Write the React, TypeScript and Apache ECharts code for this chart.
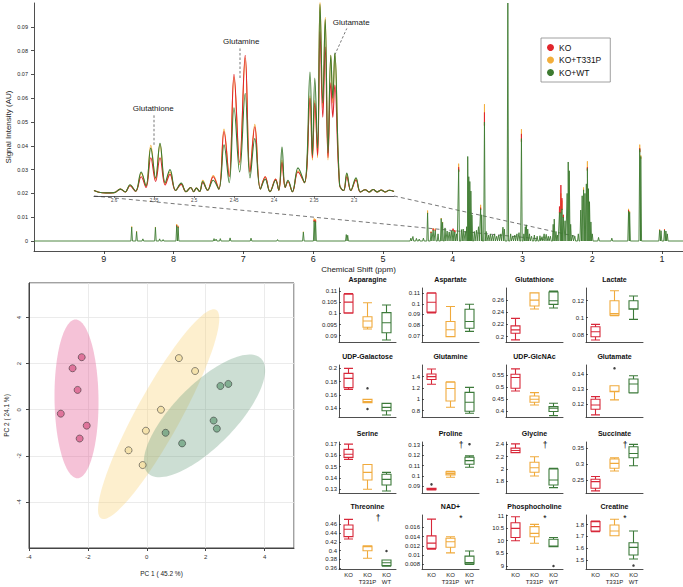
import React, { useEffect, useRef } from 'react';
import * as echarts from 'echarts';

const FONT = '"Liberation Sans", Arial, Helvetica, sans-serif';

// ---------- groups ----------
const groupNames = ['KO', 'KO+T331P', 'KO+WT'];
const specColors = ['#e1252c', '#f3ae3b', '#3d7a30']; // KO, T331P, WT
const boxColors = ['#d8283a', '#f0aa3c', '#3c7a3a'];

// ---------- main spectrum peaks: [ppm, KO+WT, KO, KO+T331P] ----------
const mainPeaks: number[][] = [
  [8.6, 0.0058, 0.0058, 0.0061], [8.53, 0.0039, 0.0039, 0.0041], [8.44, 0.0009, 0.0009, 0.0009],
  [8.26, 0.0057, 0.0056, 0.0059], [8.2, 0.0009, 0.0009, 0.0009], [8.15, 0.0006, 0.0006, 0.0006],
  [7.955, 0.0064, 0.0066, 0.0071], [7.935, 0.0058, 0.006, 0.0064],
  [7.42, 0.001, 0.001, 0.001], [7.39, 0.0008, 0.0008, 0.0008], [7.33, 0.001, 0.001, 0.001],
  [7.19, 0.0013, 0.0013, 0.0013], [6.89, 0.0012, 0.0012, 0.0012], [6.51, 0.0006, 0.0006, 0.0006],
  [6.14, 0.0037, 0.0035, 0.0039], [5.985, 0.0084, 0.0089, 0.0095], [5.965, 0.0081, 0.0086, 0.0092],
  [5.525, 0.0027, 0.0027, 0.0028], [5.505, 0.0024, 0.0024, 0.0025],
  [4.6, 0.0012, 0.0012, 0.0012], [4.57, 0.0019, 0.0019, 0.0019], [4.52, 0.0011, 0.0011, 0.0011],
  [4.48, 0.0008, 0.0008, 0.0008], [4.42, 0.0012, 0.0012, 0.0012],
  [4.36, 0.0118, 0.0118, 0.0128], [4.31, 0.0035, 0.0038, 0.004], [4.28, 0.0046, 0.0052, 0.0053],
  [4.25, 0.0044, 0.0048, 0.0052], [4.21, 0.003, 0.003, 0.003], [4.165, 0.0094, 0.0094, 0.0096],
  [4.145, 0.0078, 0.0078, 0.008], [4.11, 0.0055, 0.0055, 0.0056], [4.08, 0.0042, 0.0042, 0.0042],
  [4.05, 0.0038, 0.0038, 0.0038], [4.02, 0.0042, 0.0042, 0.0042], [3.995, 0.0044, 0.0052, 0.005],
  [3.97, 0.0038, 0.0046, 0.0042], [3.945, 0.003, 0.003, 0.003], [3.915, 0.03, 0.031, 0.0325],
  [3.875, 0.0048, 0.0048, 0.0048], [3.85, 0.005, 0.005, 0.005], [3.82, 0.004, 0.004, 0.004],
  [3.8, 0.006, 0.006, 0.006], [3.785, 0.0355, 0.0345, 0.0355], [3.77, 0.027, 0.027, 0.027],
  [3.755, 0.025, 0.025, 0.025], [3.74, 0.021, 0.021, 0.021], [3.725, 0.011, 0.011, 0.011],
  [3.69, 0.004, 0.004, 0.004], [3.66, 0.0045, 0.0045, 0.0045], [3.63, 0.006, 0.006, 0.006],
  [3.6, 0.0135, 0.014, 0.0152], [3.585, 0.011, 0.011, 0.011], [3.545, 0.05, 0.054, 0.0575],
  [3.52, 0.004, 0.004, 0.004], [3.49, 0.0025, 0.0025, 0.0025], [3.46, 0.003, 0.003, 0.003],
  [3.43, 0.0025, 0.0025, 0.0025], [3.4, 0.003, 0.003, 0.003], [3.37, 0.002, 0.002, 0.002],
  [3.34, 0.0025, 0.0025, 0.0025], [3.31, 0.003, 0.003, 0.003], [3.28, 0.0058, 0.0058, 0.0058],
  [3.26, 0.005, 0.005, 0.005], [3.21, 0.1, 0.1, 0.1], [3.17, 0.003, 0.003, 0.003],
  [3.14, 0.002, 0.002, 0.002], [3.11, 0.0025, 0.0025, 0.0025], [3.08, 0.003, 0.003, 0.003],
  [3.05, 0.0035, 0.0035, 0.0035], [3.015, 0.043, 0.045, 0.047], [2.98, 0.003, 0.003, 0.003],
  [2.96, 0.006, 0.006, 0.006], [2.945, 0.0068, 0.0068, 0.0068], [2.925, 0.005, 0.005, 0.005],
  [2.9, 0.003, 0.003, 0.003], [2.87, 0.002, 0.002, 0.002], [2.83, 0.0025, 0.0025, 0.0025],
  [2.79, 0.002, 0.002, 0.002], [2.75, 0.0022, 0.0022, 0.0022], [2.72, 0.0018, 0.0018, 0.0018],
  [2.69, 0.003, 0.003, 0.003], [2.66, 0.0028, 0.0028, 0.0028], [2.63, 0.002, 0.002, 0.002],
  [2.6, 0.002, 0.002, 0.002], [2.56, 0.007, 0.007, 0.007], [2.545, 0.0092, 0.0092, 0.0092],
  [2.52, 0.004, 0.004, 0.004], [2.5, 0.0025, 0.0025, 0.0025], [2.47, 0.012, 0.0145, 0.014],
  [2.45, 0.012, 0.0235, 0.02], [2.435, 0.0135, 0.018, 0.017], [2.415, 0.01, 0.011, 0.011],
  [2.39, 0.0085, 0.0085, 0.0085], [2.36, 0.02, 0.02, 0.02], [2.345, 0.0332, 0.03, 0.031],
  [2.33, 0.0295, 0.027, 0.029], [2.31, 0.007, 0.007, 0.007], [2.28, 0.0025, 0.0025, 0.0025],
  [2.25, 0.002, 0.002, 0.002], [2.2, 0.003, 0.003, 0.003], [2.165, 0.013, 0.013, 0.013],
  [2.145, 0.019, 0.019, 0.019], [2.125, 0.0215, 0.021, 0.0225], [2.105, 0.02, 0.02, 0.02],
  [2.085, 0.024, 0.024, 0.024], [2.07, 0.0305, 0.031, 0.0335], [2.055, 0.022, 0.022, 0.022],
  [2.04, 0.0165, 0.0165, 0.0165], [2.02, 0.008, 0.008, 0.008], [2.0, 0.003, 0.003, 0.003],
  [1.91, 0.0015, 0.0015, 0.0015], [1.72, 0.0012, 0.0012, 0.0012], [1.48, 0.0125, 0.013, 0.0135],
  [1.465, 0.012, 0.012, 0.0125], [1.32, 0.0385, 0.039, 0.0405], [1.305, 0.0355, 0.0355, 0.036],
  [1.035, 0.0045, 0.0047, 0.0048], [1.015, 0.0043, 0.0043, 0.0044], [0.965, 0.0046, 0.0048, 0.005],
  [0.945, 0.0042, 0.0042, 0.0043], [0.925, 0.003, 0.003, 0.003],
];

// ---------- inset (2.625 - 2.25 ppm): [ppm, KO+WT, KO, KO+T331P] ----------
const insetPoints: number[][] = [
  [2.625, 0.0212, 0.0212, 0.0212], [2.619, 0.0205, 0.0205, 0.0205], [2.61, 0.0202, 0.0202, 0.0202],
  [2.6, 0.0203, 0.0203, 0.0203], [2.592, 0.0218, 0.0218, 0.0218], [2.586, 0.0206, 0.0206, 0.0206],
  [2.58, 0.0236, 0.0232, 0.0234], [2.573, 0.0209, 0.0209, 0.0209], [2.566, 0.029, 0.027, 0.0285],
  [2.56, 0.0232, 0.0225, 0.023], [2.554, 0.039, 0.035, 0.0402], [2.548, 0.0265, 0.025, 0.026],
  [2.5425, 0.041, 0.035, 0.0405], [2.536, 0.0245, 0.0235, 0.024], [2.53, 0.03, 0.028, 0.029],
  [2.523, 0.0212, 0.0212, 0.0212], [2.516, 0.0243, 0.0238, 0.024], [2.51, 0.0207, 0.0207, 0.0207],
  [2.504, 0.0225, 0.0225, 0.0225], [2.5005, 0.0207, 0.0207, 0.0207], [2.497, 0.0222, 0.0222, 0.0222],
  [2.493, 0.0208, 0.0208, 0.0208], [2.489, 0.025, 0.0245, 0.0255], [2.483, 0.0213, 0.0213, 0.0213],
  [2.476, 0.0255, 0.027, 0.0275], [2.469, 0.0218, 0.0218, 0.0218], [2.4625, 0.0404, 0.046, 0.047],
  [2.456, 0.0245, 0.027, 0.027], [2.45, 0.056, 0.07, 0.069], [2.443, 0.029, 0.033, 0.032],
  [2.436, 0.062, 0.078, 0.077], [2.43, 0.0265, 0.029, 0.029], [2.424, 0.043, 0.048, 0.049],
  [2.417, 0.0218, 0.0218, 0.0218], [2.411, 0.026, 0.027, 0.027], [2.405, 0.0207, 0.0207, 0.0207],
  [2.398, 0.0255, 0.026, 0.026], [2.394, 0.0213, 0.0213, 0.0213], [2.39, 0.0395, 0.033, 0.034],
  [2.386, 0.0225, 0.0225, 0.0225], [2.3825, 0.0255, 0.025, 0.025], [2.377, 0.0207, 0.0207, 0.0207],
  [2.37, 0.0307, 0.029, 0.0295], [2.362, 0.0245, 0.0245, 0.0245], [2.355, 0.071, 0.06, 0.061],
  [2.352, 0.036, 0.035, 0.034], [2.349, 0.0685, 0.058, 0.059], [2.3455, 0.039, 0.036, 0.035],
  [2.3425, 0.0995, 0.088, 0.101], [2.339, 0.058, 0.052, 0.056], [2.336, 0.093, 0.0815, 0.094],
  [2.3325, 0.037, 0.035, 0.034], [2.329, 0.078, 0.0665, 0.078], [2.3265, 0.06, 0.052, 0.058],
  [2.324, 0.079, 0.0655, 0.0785], [2.318, 0.0235, 0.0235, 0.0235], [2.313, 0.0212, 0.0212, 0.0212],
  [2.309, 0.0285, 0.027, 0.028], [2.304, 0.0212, 0.0212, 0.0212], [2.2975, 0.0265, 0.0255, 0.026],
  [2.292, 0.0206, 0.0206, 0.0206], [2.286, 0.0215, 0.0215, 0.0215], [2.281, 0.0206, 0.0206, 0.0206],
  [2.276, 0.0216, 0.0216, 0.0216], [2.271, 0.0206, 0.0206, 0.0206], [2.266, 0.0214, 0.0214, 0.0214],
  [2.261, 0.0206, 0.0206, 0.0206], [2.256, 0.0213, 0.0213, 0.0213], [2.25, 0.0208, 0.0208, 0.0208],
];
const mainXTicks = [1, 2, 3, 4, 5, 6, 7, 8, 9];
const mainYTicks = [0, 0.01, 0.02, 0.03, 0.04, 0.05, 0.06, 0.07, 0.08, 0.09];
const insetXTicks = [2.3, 2.35, 2.4, 2.45, 2.5, 2.55, 2.6];

// ---------- PCA scores ----------
const pcaKO = [[-2.21, 2.28], [-2.52, 1.8], [-2.35, 0.86], [-2.92, -0.17], [-2.04, -0.69], [-2.28, -1.25]];
const pcaT331P = [[1.09, 2.24], [1.64, 1.68], [0.48, 0.0], [-0.03, -0.91], [-0.62, -1.76], [-0.14, -2.4]];
const pcaWT = [[2.5, 1.03], [2.77, 1.12], [2.27, -0.47], [2.38, -0.82], [0.64, -1.0], [1.2, -1.46]];

// ---------- boxplots ----------
const boxCategories = ['KO', 'KO\nT331P', 'KO\nWT'];
const boxNames = ['Asparagine', 'Aspartate', 'Glutathione', 'Lactate', 'UDP-Galactose', 'Glutamine',
  'UDP-GlcNAc', 'Glutamate', 'Serine', 'Proline', 'Glycine', 'Succinate', 'Threonine', 'NAD+',
  'Phosphocholine', 'Creatine'];
const boxTicks = [
  [0.09, 0.095, 0.1, 0.105, 0.11], [0.07, 0.08, 0.09, 0.1, 0.11], [0.2, 0.22, 0.24, 0.26], [0.08, 0.1, 0.12],
  [0.14, 0.16, 0.18, 0.2], [0.8, 1, 1.2, 1.4], [0.4, 0.45, 0.5, 0.55], [0.12, 0.13, 0.14],
  [0.13, 0.14, 0.15, 0.16, 0.17], [0.09, 0.1, 0.11, 0.12, 0.13], [1.8, 2, 2.2, 2.4], [0.25, 0.3, 0.35],
  [0.36, 0.38, 0.4, 0.42, 0.44, 0.46], [0.008, 0.01, 0.012, 0.014, 0.016], [9, 9.5, 10, 10.5, 11], [1.5, 1.6, 1.7, 1.8],
];
const boxMin = [0.0872, 0.064, 0.191, 0.0714, 0.127, 0.688, 0.374, 0.1115, 0.1267, 0.0834, 1.607, 0.21, 0.3584, 0.007, 8.88, 1.426];
const boxMax = [0.1113, 0.115, 0.28, 0.135, 0.205, 1.605, 0.594, 0.1462, 0.1719, 0.133, 2.44, 0.37, 0.481, 0.0187, 11.02, 1.88];
// [lower whisker, Q1, median, Q3, upper whisker]
const boxKO = [
  [0.1, 0.1002, 0.105, 0.1085, 0.1088], [0.0915, 0.0922, 0.1016, 0.11, 0.1104], [0.1945, 0.2055, 0.211, 0.2175, 0.23],
  [0.0738, 0.0776, 0.0835, 0.0894, 0.0922], [0.1685, 0.171, 0.185, 0.1925, 0.2], [1.265, 1.35, 1.4, 1.446, 1.535],
  [0.484, 0.4958, 0.541, 0.555, 0.5776], [0.1129, 0.1167, 0.1195, 0.1233, 0.1251], [0.1565, 0.1583, 0.161, 0.1654, 0.17],
  [0.0863, 0.0865, 0.087, 0.088, 0.088], [2.267, 2.267, 2.3, 2.34, 2.41], [0.2166, 0.225, 0.2456, 0.253, 0.262],
  [0.4266, 0.432, 0.4486, 0.4584, 0.471], [0.0113, 0.0115, 0.0126, 0.01417, 0.0178], [10.0, 10.13, 10.49, 10.71, 10.95],
  [1.74, 1.745, 1.782, 1.824, 1.83],
];
const boxT331P = [
  [0.093, 0.0938, 0.0966, 0.0985, 0.1047], [0.069, 0.0691, 0.0755, 0.0833, 0.0975], [0.2455, 0.2503, 0.26, 0.272, 0.272],
  [0.1023, 0.103, 0.105, 0.12, 0.1318], [0.1484, 0.1484, 0.15, 0.1535, 0.1535], [0.86, 0.97, 1.19, 1.3, 1.31],
  [0.425, 0.4364, 0.449, 0.463, 0.477], [0.1229, 0.1284, 0.1287, 0.1324, 0.1324], [0.13, 0.1382, 0.145, 0.152, 0.152],
  [0.0987, 0.101, 0.1025, 0.104, 0.1045], [1.885, 1.946, 2.02, 2.11, 2.2], [0.279, 0.2875, 0.303, 0.3166, 0.3206],
  [0.3827, 0.4, 0.409, 0.4107, 0.411], [0.0105, 0.0117, 0.0129, 0.01367, 0.014], [9.9, 10.16, 10.29, 10.56, 10.65],
  [1.706, 1.706, 1.745, 1.796, 1.844],
];
const boxWT = [
  [0.0881, 0.0913, 0.0958, 0.1003, 0.1037], [0.074, 0.077, 0.0833, 0.095, 0.0997], [0.247, 0.253, 0.259, 0.2735, 0.275],
  [0.098, 0.1099, 0.1105, 0.12, 0.1255], [0.13, 0.1364, 0.1415, 0.1475, 0.1475], [0.753, 0.79, 0.947, 1.123, 1.21],
  [0.38, 0.397, 0.411, 0.418, 0.432], [0.1275, 0.1277, 0.1335, 0.1369, 0.139], [0.1285, 0.1338, 0.1388, 0.1433, 0.145],
  [0.1085, 0.1114, 0.1149, 0.1182, 0.1195], [1.694, 1.738, 1.82, 2.0, 2.01], [0.2956, 0.3206, 0.334, 0.355, 0.3625],
  [0.365, 0.366, 0.3727, 0.379, 0.379], [0.008, 0.0081, 0.0084, 0.0098, 0.0109], [9.76, 9.76, 9.79, 10.06, 10.13],
  [1.51, 1.544, 1.608, 1.647, 1.745],
];
// outliers: [category index, value]
const boxOutliers: number[][][] = [
  [], [], [], [], [[1, 0.17], [1, 0.139]], [], [], [[1, 0.144]],
  [], [[0, 0.0918], [2, 0.1309]], [], [], [[2, 0.3993]], [], [[2, 9.0]], [[2, 1.455]],
];
const boxMarks = ['', '', '', '', '', '', '', '', '', '†', '†', '†', '†', '*', '*', '*'];

// ---------- layout ----------
const colLeft = [339, 422, 506, 586];
const boxGridW = 57;
const rowTop = [288, 365, 442, 515];
const rowBottom = [342, 417, 493, 569];

// green (reference group) draws the full spectrum; the other groups only add the tips
// of the peaks where they rise above it.
function buildLine(peaks: number[][], col: number) {
  const hw = 0.011, d = 0.0012;
  const sorted = [...peaks].sort((a, b) => b[0] - a[0]);
  const pts: any[] = [];
  if (col === 1) {
    pts.push([10, 0]);
    for (const p of sorted) {
      pts.push([p[0] + hw, 0], [p[0], p[1]], [p[0] - hw, 0]);
    }
    pts.push([0.7, 0]);
    return pts;
  }
  for (const p of sorted) {
    if (p[col] > p[1] + 1e-9) {
      const base = p[1] * 0.97;
      pts.push([p[0] + d, base], [p[0], p[col]], [p[0] - d, base], [p[0] - 2 * d, '-']);
    }
  }
  return pts;
}

function ellipse(pts: number[][]) {
  const n = pts.length;
  const mx = pts.reduce((s, p) => s + p[0], 0) / n;
  const my = pts.reduce((s, p) => s + p[1], 0) / n;
  let sxx = 0, syy = 0, sxy = 0;
  for (const p of pts) {
    sxx += (p[0] - mx) ** 2; syy += (p[1] - my) ** 2; sxy += (p[0] - mx) * (p[1] - my);
  }
  sxx /= n - 1; syy /= n - 1; sxy /= n - 1;
  const tr = sxx + syy, det = sxx * syy - sxy * sxy;
  const disc = Math.sqrt(Math.max(tr * tr / 4 - det, 0));
  const l1 = tr / 2 + disc, l2 = Math.max(tr / 2 - disc, 0);
  const ang = Math.abs(sxy) < 1e-12 ? (sxx >= syy ? 0 : Math.PI / 2) : Math.atan2(sxy, l1 - syy);
  const k = Math.sqrt(5.991);
  const a = k * Math.sqrt(l1), b = k * Math.sqrt(l2);
  const out: number[][] = [];
  for (let i = 0; i < 120; i++) {
    const t = (2 * Math.PI * i) / 120;
    const ex = a * Math.cos(t), ey = b * Math.sin(t);
    out.push([mx + ex * Math.cos(ang) - ey * Math.sin(ang), my + ex * Math.sin(ang) + ey * Math.cos(ang)]);
  }
  return out;
}

function buildOption() {
  const grid: any[] = [
    { left: 34, top: 3, width: 649, height: 248 },
    { left: 94, top: 3, width: 300, height: 193 },
    { left: 29, top: 283, width: 265, height: 265, show: true, borderColor: '#444', borderWidth: 1, backgroundColor: 'transparent' },
  ];
  const xAxis: any[] = [
    {
      type: 'value', gridIndex: 0, inverse: true, min: 0.7, max: 10,
      axisLine: { onZero: false, lineStyle: { color: '#222', width: 0.8 } },
      axisTick: { customValues: mainXTicks, length: 3, lineStyle: { color: '#222', width: 0.8 } },
      axisLabel: { customValues: mainXTicks, fontSize: 9, color: '#222', margin: 3 },
      splitLine: { show: false },
      name: 'Chemical Shift (ppm)', nameLocation: 'middle', nameGap: 14.5, nameMoveOverlap: false,
      nameTextStyle: { fontSize: 8, color: '#222' },
    },
    {
      type: 'value', gridIndex: 1, inverse: true, min: 2.25, max: 2.625,
      axisLine: { onZero: false, lineStyle: { color: '#333', width: 0.8 } },
      axisTick: { customValues: insetXTicks, length: 2, lineStyle: { color: '#333', width: 0.6 } },
      axisLabel: { customValues: insetXTicks, fontSize: 4.5, color: '#444', margin: 2 },
      splitLine: { show: false },
    },
    {
      type: 'value', gridIndex: 2, min: -4, max: 5, interval: 2,
      axisLine: { onZero: false, lineStyle: { color: '#444', width: 1 } },
      axisTick: { length: 3, lineStyle: { color: '#444' } },
      axisLabel: { fontSize: 6, color: '#333', margin: 6, showMaxLabel: false },
      splitLine: { show: true, lineStyle: { color: '#e6e6e6', width: 0.8 } },
      name: 'PC 1 ( 45.2 %)', nameLocation: 'middle', nameGap: 22, nameMoveOverlap: false,
      nameTextStyle: { fontSize: 6.5, color: '#222' },
    },
  ];
  const yAxis: any[] = [
    {
      type: 'value', gridIndex: 0, min: -0.0042, max: 0.1,
      axisLine: { show: true, onZero: false, lineStyle: { color: '#222', width: 0.8 } },
      axisTick: { show: true, customValues: mainYTicks, length: 3, lineStyle: { color: '#222', width: 0.8 } },
      axisLabel: { customValues: mainYTicks, fontSize: 5.5, color: '#222', margin: 6 },
      splitLine: { show: false },
      name: 'Signal Intensity (AU)', nameLocation: 'middle', nameGap: 22, nameMoveOverlap: false,
      nameTextStyle: { fontSize: 8, color: '#222' },
    },
    { type: 'value', gridIndex: 1, min: 0.0189, max: 0.1, show: false, splitLine: { show: false } },
    {
      type: 'value', gridIndex: 2, min: -6, max: 5.5, interval: 2,
      axisLine: { show: true, onZero: false, lineStyle: { color: '#444', width: 1 } },
      axisTick: { show: true, length: 3, lineStyle: { color: '#444' } },
      axisLabel: { fontSize: 6, color: '#333', margin: 7, rotate: 90, showMinLabel: false, showMaxLabel: false },
      splitLine: { show: true, lineStyle: { color: '#e6e6e6', width: 0.8 } },
      name: 'PC 2 ( 24.1 %)', nameLocation: 'middle', nameGap: 19, nameMoveOverlap: false,
      nameTextStyle: { fontSize: 6.5, color: '#222' },
    },
  ];
  const series: any[] = [];
  // main spectrum: orange, red tips, green on top
  const order = [[1, 3], [0, 2], [2, 1]]; // [color idx, column]
  for (const [ci, col] of order) {
    series.push({
      type: 'line', name: groupNames[ci], xAxisIndex: 0, yAxisIndex: 0,
      data: buildLine(mainPeaks, col), showSymbol: false, silent: true, clip: true, connectNulls: false,
      lineStyle: { width: 0.9, color: specColors[ci] }, itemStyle: { color: specColors[ci] },
    });
  }
  for (const [ci, col] of order) {
    series.push({
      type: 'line', name: groupNames[ci], xAxisIndex: 1, yAxisIndex: 1,
      data: insetPoints.map((p) => [p[0], p[col]]), showSymbol: false, silent: true, clip: true,
      smooth: 0.4,
      lineStyle: { width: 1.1, color: specColors[ci] }, itemStyle: { color: specColors[ci] },
    });
  }
  // PCA
  const ellFill = ['rgba(225,80,140,0.35)', 'rgba(250,210,120,0.36)', 'rgba(100,155,120,0.33)'];
  const ptFill = ['#d9608c', '#f3dfa2', '#6fa282'];
  [pcaKO, pcaT331P, pcaWT].forEach((pts, gi) => {
    const ell = ellipse(pts);
    series.push({
      type: 'custom', name: 'ellipse-' + gi, xAxisIndex: 2, yAxisIndex: 2, silent: true,
      data: [[pts[0][0], pts[0][1]]],
      renderItem: (params: any, api: any) => ({
        type: 'polygon',
        shape: { points: ell.map((p) => api.coord(p)) },
        style: { fill: ellFill[gi], stroke: 'none' },
      }),
    });
  });
  [pcaKO, pcaT331P, pcaWT].forEach((pts, gi) => {
    series.push({
      type: 'scatter', name: 'pca-' + gi, xAxisIndex: 2, yAxisIndex: 2, data: pts,
      symbolSize: 7, silent: true,
      itemStyle: { color: ptFill[gi], borderColor: '#333', borderWidth: 0.7 },
    });
  });
  // boxplots
  boxNames.forEach((name, i) => {
    const r = Math.floor(i / 4), c = i % 4;
    const gi = 3 + i;
    grid.push({ left: colLeft[c], top: rowTop[r], width: boxGridW, height: rowBottom[r] - rowTop[r] });
    xAxis.push({
      type: 'category', gridIndex: gi, data: boxCategories, boundaryGap: true,
      axisLine: { onZero: false, lineStyle: { color: '#222', width: 0.8 } },
      axisTick: { inside: true, alignWithLabel: true, length: 2, lineStyle: { color: '#222', width: 0.7 } },
      axisLabel: { show: r === 3, fontSize: 6, color: '#222', margin: 3, lineHeight: 6.5, interval: 0 },
      splitLine: { show: false },
    });
    yAxis.push({
      type: 'value', gridIndex: gi, min: boxMin[i], max: boxMax[i],
      axisLine: { show: true, onZero: false, lineStyle: { color: '#222', width: 0.8 } },
      axisTick: { show: true, inside: true, customValues: boxTicks[i], length: 2, lineStyle: { color: '#222', width: 0.7 } },
      axisLabel: { customValues: boxTicks[i], fontSize: 6, color: '#222', margin: 2 },
      splitLine: { show: false },
    });
    const vals = [boxKO[i], boxT331P[i], boxWT[i]];
    series.push({
      type: 'boxplot', name, xAxisIndex: gi, yAxisIndex: gi, silent: true,
      boxWidth: [9, 9],
      data: vals.map((v, k) => ({ value: v, itemStyle: { color: '#fff', borderColor: boxColors[k], borderWidth: 1.1 } })),
      itemStyle: { color: '#fff', borderWidth: 1.1 },
    });
    if (boxOutliers[i].length) {
      series.push({
        type: 'scatter', name: name + '-out', xAxisIndex: gi, yAxisIndex: gi, silent: true,
        data: boxOutliers[i], symbolSize: 2.5, itemStyle: { color: '#111' },
      });
    }
  });

  return {
    animation: false,
    textStyle: { fontFamily: FONT },
    grid: grid.map((g) => ({ ...g, containLabel: false, outerBoundsMode: 'none' })),
    xAxis, yAxis, series,
    legend: {
      data: groupNames, left: 541, top: 38, orient: 'vertical', icon: 'circle',
      itemWidth: 7, itemHeight: 7, itemGap: 3.5, selectedMode: false,
      borderColor: '#888', borderWidth: 0.8, padding: [5, 9, 5, 6],
      textStyle: { fontSize: 8.5, color: '#111', fontFamily: FONT },
    },
  };
}

const insetLabels = [
  { text: 'Glutathione', at: [2.551, 0.0558], from: [2.55, 0.0404], to: [2.55, 0.0528] },
  { text: 'Glutamine', at: [2.441, 0.0838], from: [2.4425, 0.0685], to: [2.4425, 0.081] },
  { text: 'Glutamate', at: [2.3035, 0.0918], from: [2.324, 0.0782], to: [2.309, 0.0893] },
];

function buildGraphic(chart: any) {
  const g: any[] = [];
  const px = (gi: number, pt: number[]) => chart.convertToPixel({ gridIndex: gi }, pt) as number[];
  const dash = { stroke: '#777', lineWidth: 1, lineDash: [4, 3], fill: null };
  const l1a = px(1, [2.625, 0.0189]), l1b = px(0, [2.625, 0.0005]);
  const l2a = px(1, [2.25, 0.0189]), l2b = px(0, [2.25, 0.002]);
  g.push({ type: 'line', silent: true, shape: { x1: l1a[0], y1: l1a[1], x2: l1b[0], y2: l1b[1] }, style: dash });
  g.push({ type: 'line', silent: true, shape: { x1: l2a[0], y1: l2a[1], x2: l2b[0], y2: l2b[1] }, style: dash });
  for (const lab of insetLabels) {
    const a = px(1, lab.from), b = px(1, lab.to), t = px(1, lab.at);
    g.push({ type: 'line', silent: true, shape: { x1: a[0], y1: a[1], x2: b[0], y2: b[1] }, style: { stroke: '#666', lineWidth: 0.9, lineDash: [2.5, 2] } });
    g.push({ type: 'text', silent: true, style: { text: lab.text, x: t[0], y: t[1], align: 'center', verticalAlign: 'middle', font: `8px ${FONT}`, fill: '#222' } });
  }
  boxNames.forEach((name, i) => {
    const r = Math.floor(i / 4), c = i % 4;
    g.push({ type: 'text', silent: true, style: { text: name, x: colLeft[c] + boxGridW / 2, y: rowTop[r] - 9, align: 'center', verticalAlign: 'middle', font: `bold 7px ${FONT}`, fill: '#111' } });
    if (boxMarks[i]) {
      g.push({ type: 'text', silent: true, style: { text: boxMarks[i], x: colLeft[c] + 39, y: rowTop[r] + 3, align: 'center', verticalAlign: 'middle', font: `8.5px ${FONT}`, fill: '#000' } });
    }
  });
  return g;
}

export default function App() {
  const ref = useRef<HTMLDivElement>(null);
  useEffect(() => {
    document.body.style.margin = '0';
    const chart = echarts.init(ref.current!, null, { renderer: 'svg' });
    chart.setOption(buildOption() as any);
    chart.setOption({ graphic: buildGraphic(chart) } as any);
    return () => chart.dispose();
  }, []);
  return <div ref={ref} style={{ width: 683, height: 587, background: '#fff' }} />;
}
